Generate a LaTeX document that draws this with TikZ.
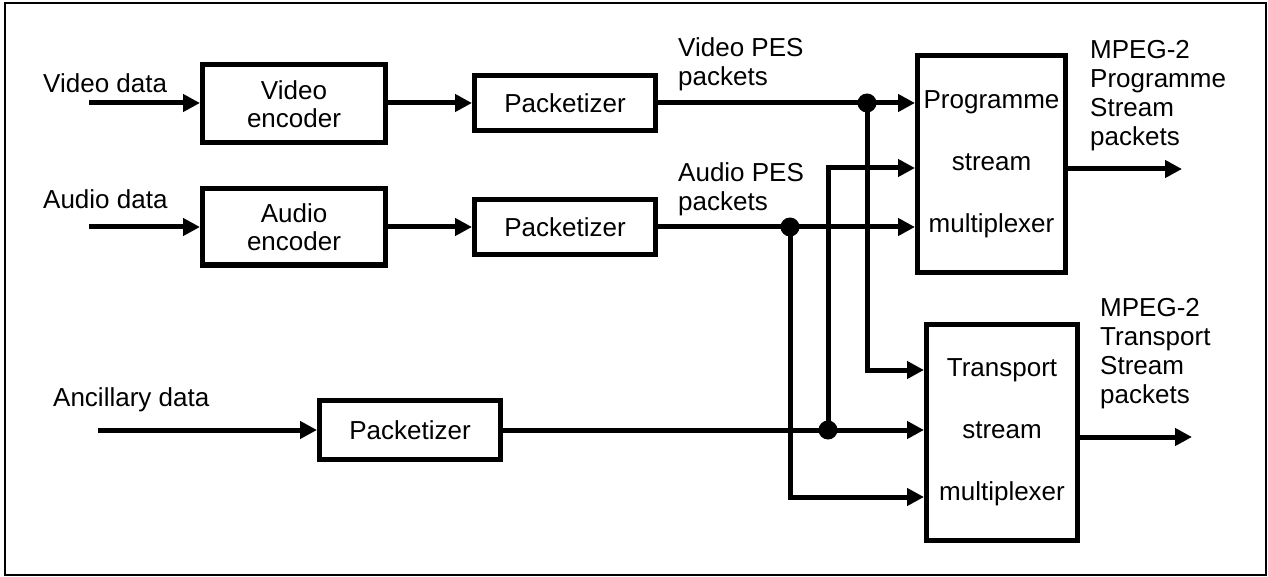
\documentclass[tikz,border=0pt]{standalone}
\usepackage{fontspec}
\setmainfont{Liberation Sans}
\usetikzlibrary{arrows.meta}
\begin{document}
\begin{tikzpicture}[x=1pt,y=-1pt,
  blk/.style={draw,line width=5pt,align=center,inner sep=0pt,font=\fontsize{26}{28}\selectfont},
  mux/.style={blk,font=\fontsize{26}{62}\selectfont},
  conn/.style={line width=5pt},
  arr/.style={conn,-{Triangle[length=17pt,width=17pt]}},
  lbl/.style={font=\fontsize{26}{29}\selectfont,align=left,inner sep=0pt},
  dotc/.style={circle,fill,inner sep=0pt,minimum size=19pt}]
\useasboundingbox (0,0) rectangle (1268,577);
\draw[line width=1.5pt] (5,3) rectangle (1266,575);

% blocks
\node[blk,minimum width=183pt,minimum height=78pt] (venc) at (294,104) {Video\\encoder};
\node[blk,minimum width=181pt,minimum height=55pt] (vpk) at (565,103) {Packetizer};
\node[blk,minimum width=183pt,minimum height=76pt] (aenc) at (294,227) {Audio\\encoder};
\node[blk,minimum width=181pt,minimum height=55pt] (apk) at (565,227) {Packetizer};
\node[blk,minimum width=181pt,minimum height=59pt] (xpk) at (410,430) {Packetizer};
\node[mux,minimum width=148pt,minimum height=217pt] (psm) at (991.5,164) {Programme\\stream\\multiplexer};
\node[mux,minimum width=151pt,minimum height=216pt] (tsm) at (1002,432.5) {Transport\\stream\\multiplexer};

% labels
\node[lbl,anchor=west] (lvd) at (43,83) {Video data};
\node[lbl,anchor=west] (lad) at (43,199) {Audio data};
\node[lbl,anchor=west] (lxd) at (53,400) {Ancillary data};
\node[lbl,anchor=west] (lvp) at (678,64) {Video PES\\packets};
\node[lbl,anchor=west] (lap) at (678,189) {Audio PES\\packets};
\node[lbl,anchor=west] (lps) at (1090,96) {MPEG-2\\Programme\\Stream\\packets};
\node[lbl,anchor=west] (lts) at (1100,354) {MPEG-2\\Transport\\Stream\\packets};

% coordinates
\coordinate (vin) at (89,103);
\coordinate (ain) at (89,227);
\coordinate (xin) at (98,430);
\coordinate (pout) at (1182,169);
\coordinate (tout) at (1192,437);
\coordinate (jv) at (867,103);
\coordinate (ja) at (790,227);
\coordinate (jx) at (828,430);
\coordinate (py2) at (0,168);
\coordinate (ty1) at (0,370);
\coordinate (ty3) at (0,497);

% connectors
\draw[arr] (vin) -- (vin -| venc.west);
\draw[arr] (vin -| venc.east) -- (vin -| vpk.west);
\draw[arr] (vin -| vpk.east) -- (vin -| psm.west);
\draw[arr] (ain) -- (ain -| aenc.west);
\draw[arr] (ain -| aenc.east) -- (ain -| apk.west);
\draw[arr] (ain -| apk.east) -- (ain -| psm.west);
\draw[arr] (xin) -- (xin -| xpk.west);
\draw[arr] (xin -| xpk.east) -- (xin -| tsm.west);
\draw[arr] (jv) |- (ty1 -| tsm.west);
\draw[arr] (ja) |- (ty3 -| tsm.west);
\draw[arr] (jx) |- (py2 -| psm.west);
\draw[arr] (pout -| psm.east) -- (pout);
\draw[arr] (tout -| tsm.east) -- (tout);

% junction dots
\node[dotc] (dv) at (jv) {};
\node[dotc] (da) at (ja) {};
\node[dotc] (dx) at (jx) {};
\end{tikzpicture}
\end{document}
